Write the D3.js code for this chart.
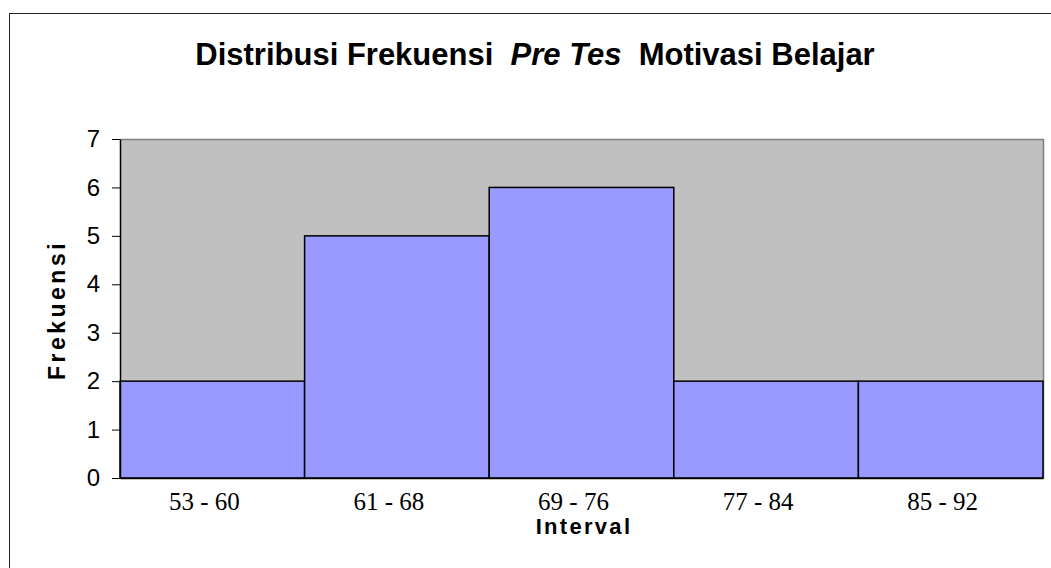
<!DOCTYPE html>
<meta charset="utf-8">
<style>
body { margin: 0; background: #fff; }
svg { display: block; }
</style>
<svg width="1051" height="568"></svg>
<script src="https://d3js.org/d3.v7.min.js"></script>
<script>

// data
var intervals = ["53 - 60", "61 - 68", "69 - 76", "77 - 84", "85 - 92"];
var frekuensi = [2, 5, 6, 2, 2];
var yTicks = [0, 1, 2, 3, 4, 5, 6, 7];

var svg = d3.select("svg"),
    plotLeft = 120, plotRight = 1043, plotTop = 139, plotBottom = 478;

// outer border (runs past the picture on right and bottom)
svg.append("rect")
    .attr("x", 9.5).attr("y", 13.5)
    .attr("width", 1100).attr("height", 600)
    .attr("fill", "none").attr("stroke", "#222").attr("stroke-width", 1);

var x = d3.scaleBand().domain(intervals).range([plotLeft, plotRight]).padding(0);
var y = d3.scaleLinear().domain([0, 7]).range([plotBottom, plotTop]);

// plot area
svg.append("rect")
    .attr("x", plotLeft).attr("y", plotTop)
    .attr("width", plotRight - plotLeft).attr("height", plotBottom - plotTop)
    .attr("fill", "#c0c0c0");
svg.append("path")
    .attr("d", "M" + plotLeft + "," + (plotTop + 0.5) + "H" + (plotRight + 0.5) + "V" + plotBottom)
    .attr("fill", "none").attr("stroke", "#808080").attr("stroke-width", 1.5);

// bars
svg.selectAll(".bar")
    .data(frekuensi)
    .enter().append("rect")
      .attr("class", "bar")
      .attr("x", function(d, i) { return x(intervals[i]); })
      .attr("y", function(d) { return y(d); })
      .attr("width", x.bandwidth())
      .attr("height", function(d) { return plotBottom - y(d); })
      .attr("fill", "#9999ff")
      .attr("stroke", "#000")
      .attr("stroke-width", 1.5);

// y axis
var yAxis = svg.append("g")
    .attr("transform", "translate(" + plotLeft + ",0)")
    .call(d3.axisLeft(y).tickValues(yTicks).tickFormat(d3.format("d"))
      .tickSize(8).tickSizeOuter(0).tickPadding(12));
yAxis.select(".domain").attr("stroke", "#000").attr("stroke-width", 1.5);
yAxis.selectAll(".tick line").attr("stroke", "#000");
yAxis.selectAll(".tick text")
    .style("font-family", "Arial, 'Liberation Sans', sans-serif")
    .style("font-size", "24px")
    .attr("fill", "#000");

// x axis
var xAxis = svg.append("g")
    .attr("transform", "translate(0," + plotBottom + ")")
    .call(d3.axisBottom(x).tickSize(0).tickSizeOuter(0).tickPadding(14));
xAxis.select(".domain").attr("stroke", "#000").attr("stroke-width", 1.5);
xAxis.selectAll(".tick text")
    .attr("dx", -8)
    .style("font-family", "'Liberation Serif', 'Times New Roman', serif")
    .style("font-size", "25px")
    .attr("fill", "#000");

// title
var title = svg.append("text")
    .attr("x", 535).attr("y", 65)
    .attr("text-anchor", "middle")
    .style("font-family", "Arial, 'Liberation Sans', sans-serif")
    .style("font-weight", "bold")
    .style("font-size", "31px");
title.append("tspan").text("Distribusi Frekuensi ");
title.append("tspan").style("font-style", "italic").text("\u00a0Pre Tes\u00a0");
title.append("tspan").text(" Motivasi Belajar");

// axis titles
svg.append("text")
    .attr("x", 584).attr("y", 534)
    .attr("text-anchor", "middle")
    .style("font-family", "Arial, 'Liberation Sans', sans-serif")
    .style("font-weight", "bold")
    .style("font-size", "22px")
    .style("letter-spacing", "2.3px")
    .text("Interval");

svg.append("text")
    .attr("transform", "translate(65,310) rotate(-90)")
    .attr("text-anchor", "middle")
    .style("font-family", "Arial, 'Liberation Sans', sans-serif")
    .style("font-weight", "bold")
    .style("font-size", "23px")
    .style("letter-spacing", "3.5px")
    .text("Frekuensi");

</script>
